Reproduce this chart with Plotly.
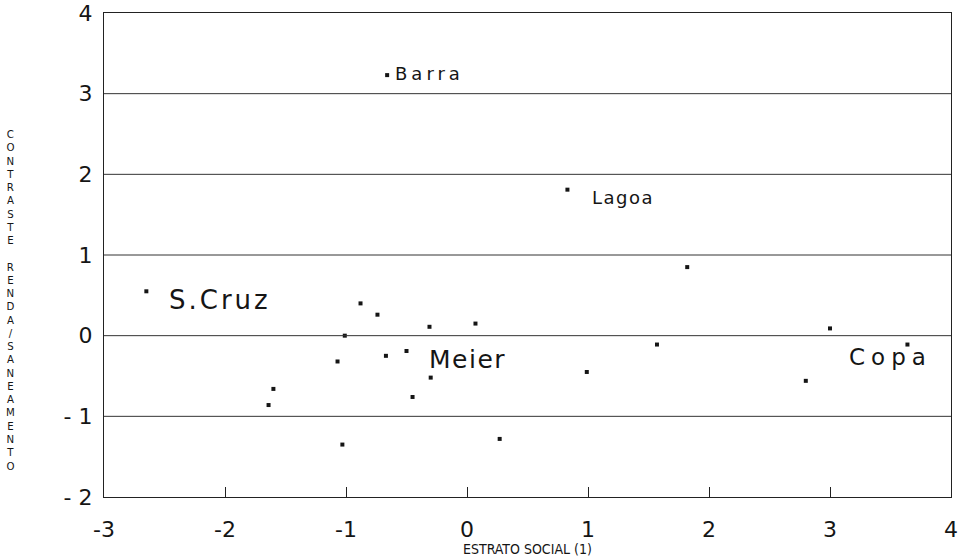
import plotly.graph_objects as go

# ---- data ----
estrato = [-0.66, 0.83, -2.65, -0.88, -0.74, -1.01, -0.31, 0.07, -1.07, -0.67,
           -0.50, -0.30, -1.60, -1.64, -0.45, -1.03, 0.27, 0.99, 1.57, 1.82,
           2.80, 3.00, 3.64]
contraste = [3.23, 1.81, 0.55, 0.40, 0.26, 0.00, 0.11, 0.15, -0.32, -0.25,
             -0.19, -0.52, -0.66, -0.86, -0.76, -1.35, -1.28, -0.45, -0.11, 0.85,
             -0.56, 0.09, -0.11]
names = ["Barra", "Lagoa", "S.Cruz", "", "", "", "", "", "", "",
         "Meier", "", "", "", "", "", "", "", "", "",
         "", "", "Copa"]

x_tickvals = [-3, -2, -1, 0, 1, 2, 3, 4]
x_ticktext = ["-3", "-2", "-1", "0", "1", "2", "3", "4"]
y_tickvals = [-2, -1, 0, 1, 2, 3, 4]
y_ticktext = ["- 2", "- 1", "0", "1", "2", "3", "4"]
grid_levels = [-1, 0, 1, 2, 3]

x_title = "ESTRATO SOCIAL (1)"
y_title = "CONTRASTE  RENDA/SANEAMENTO"

# ---- label styling (offsets in px relative to the point) ----
label_style = {
    "Barra": dict(size=18, xshift=6, yshift=2, xanchor="left", spacing=4),
    "Lagoa": dict(size=18, xshift=23, yshift=-8, xanchor="left", spacing=1.5),
    "S.Cruz": dict(size=26, xshift=21, yshift=-9, xanchor="left", spacing=3),
    "Meier": dict(size=25, xshift=20, yshift=-9, xanchor="left", spacing=1.5),
    "Copa": dict(size=23, xshift=-60, yshift=-12, xanchor="left", spacing=6),
}

FONT = "DejaVu Sans, Liberation Sans, sans-serif"
NARROW = "Liberation Sans Narrow, DejaVu Sans Condensed, sans-serif"
INK = "#151515"

# plot area in pixels
W, H = 962, 560
ML, MR, MT, MB = 104, 11, 13, 63
PW, PH = W - ML - MR, H - MT - MB

fig = go.Figure()
fig.add_trace(go.Scatter(
    x=estrato, y=contraste, mode="markers",
    marker=dict(symbol="square", size=4, color=INK, line=dict(width=0)),
    hoverinfo="x+y", showlegend=False,
))

for lv in grid_levels:
    fig.add_shape(type="line", xref="paper", x0=0, x1=1, yref="y", y0=lv, y1=lv,
                  line=dict(color="#333333", width=1))

annotations = []
for xv, yv, nm in zip(estrato, contraste, names):
    if not nm:
        continue
    st = label_style[nm]
    annotations.append(dict(
        x=xv, y=yv, xref="x", yref="y",
        text='<span style="letter-spacing:%spx">%s</span>' % (st["spacing"], nm),
        showarrow=False, xanchor=st["xanchor"], yanchor="middle",
        xshift=st["xshift"], yshift=st["yshift"],
        font=dict(family=FONT, size=st["size"], color=INK),
    ))

# stacked vertical y title: one upright letter per line
stacked = "<br>".join(ch if ch != " " else "&nbsp;" for ch in y_title.replace("  ", " "))
annotations.append(dict(
    x=(10 - ML) / PW, y=(MT + PH - 300) / PH, xref="paper", yref="paper",
    text=stacked, showarrow=False, xanchor="center", yanchor="middle",
    align="center", borderpad=0,
    font=dict(family=FONT, size=10.2, color=INK),
))

# x axis title
annotations.append(dict(
    x=0.5, y=(MT + PH - 549) / PH, xref="paper", yref="paper",
    text=x_title, showarrow=False, xanchor="center", yanchor="middle",
    font=dict(family=NARROW, size=14, color=INK),
))

fig.update_layout(
    width=W, height=H,
    margin=dict(l=ML, r=MR, t=MT, b=MB),
    paper_bgcolor="white", plot_bgcolor="white",
    font=dict(family=FONT, color=INK),
    annotations=annotations,
    xaxis=dict(
        range=[-3, 4], tickvals=x_tickvals, ticktext=x_ticktext,
        ticks="inside", ticklen=10, tickwidth=1, tickcolor="#222222",
        showgrid=False, zeroline=False, automargin=False,
        showline=True, linecolor="#222222", linewidth=1.2, mirror=True,
        tickfont=dict(size=22, family=FONT, color=INK), ticklabelstandoff=12,
    ),
    yaxis=dict(
        range=[-2, 4], tickvals=y_tickvals, ticktext=y_ticktext,
        ticks="", showgrid=False, zeroline=False, automargin=False,
        showline=True, linecolor="#222222", linewidth=1.2, mirror=True,
        tickfont=dict(size=22, family=FONT, color=INK), ticklabelstandoff=6,
    ),
)

fig.write_html("out.html", config={"displayModeBar": False},
               post_script="document.body.style.margin='0';")
